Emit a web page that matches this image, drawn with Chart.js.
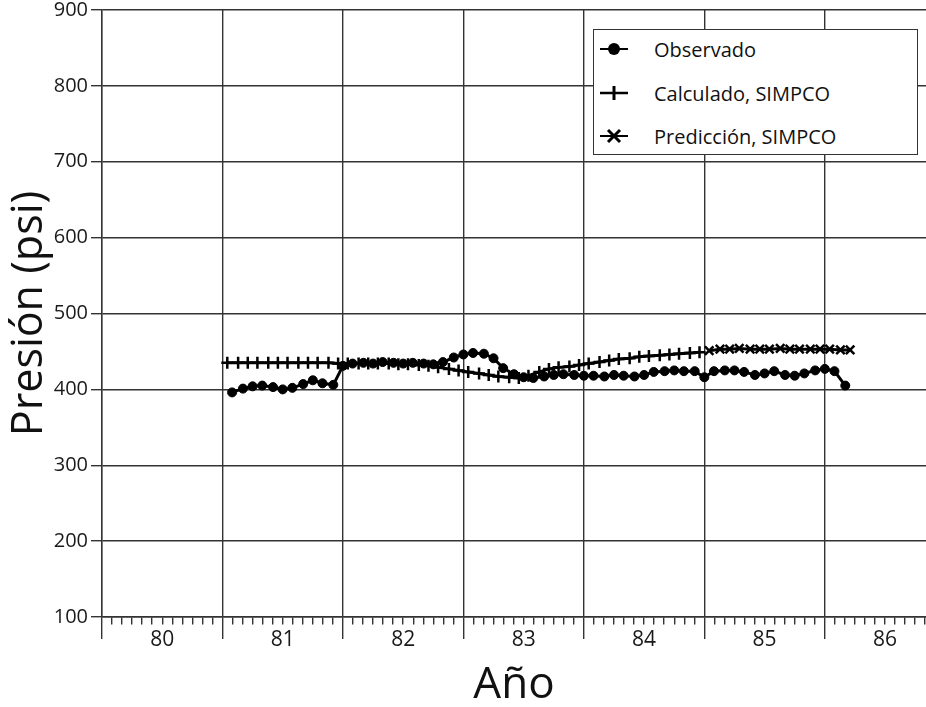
<!DOCTYPE html>
<html lang="es">
<head>
<meta charset="utf-8">
<title>Presión vs Año</title>
<script src="https://cdn.jsdelivr.net/npm/chart.js@4.4.0/dist/chart.umd.min.js"></script>
<style>
  html, body { margin: 0; padding: 0; background: #fff; }
  #wrap { position: relative; width: 926px; height: 707px; }
  #leyenda {
    position: absolute; left: 593px; top: 29px; width: 323px; height: 124px;
    border: 1.5px solid #333; background: #fff;
    font-family: 'Open Sans', sans-serif; font-size: 20px; color: #111;
  }
  .item { position: absolute; left: 0; height: 26px; display: flex; align-items: center; white-space: nowrap; }
  .item svg { margin-left: 5px; margin-right: 25px; }
</style>
</head>
<body>
<div id="wrap">
  <canvas id="grafico" width="926" height="707"></canvas>
  <div id="leyenda"></div>
</div>
<script>
// Datos (año decimal, presión en psi)
const obsAnio = [
  81.08, 81.17, 81.25, 81.33, 81.42, 81.50, 81.58, 81.67, 81.75, 81.83, 81.92, 82.00,
  82.08, 82.17, 82.25, 82.33, 82.42, 82.50, 82.58, 82.67, 82.75, 82.83, 82.92, 83.00,
  83.08, 83.17, 83.25, 83.33, 83.42, 83.50, 83.58, 83.67, 83.75, 83.83, 83.92, 84.00,
  84.08, 84.17, 84.25, 84.33, 84.42, 84.50, 84.58, 84.67, 84.75, 84.83, 84.92, 85.00,
  85.08, 85.17, 85.25, 85.33, 85.42, 85.50, 85.58, 85.67, 85.75, 85.83, 85.92, 86.00,
  86.08, 86.17
];
const obsPresion = [
  396, 401, 404, 405, 403, 400, 402, 407, 412, 408, 406, 431,
  434, 435, 434, 436, 435, 434, 435, 434, 433, 436, 442, 446,
  448, 447, 441, 428, 420, 416, 415, 417, 419, 420, 419, 418,
  418, 417, 419, 418, 417, 419, 423, 424, 425, 424, 424, 416,
  424, 425, 425, 423, 419, 421, 424, 419, 418, 421, 425, 427,
  424, 405
];

const calcAnio = [
  81.04, 81.13, 81.21, 81.29, 81.38, 81.46, 81.54, 81.63, 81.71, 81.79, 81.88, 81.96,
  82.04, 82.13, 82.21, 82.29, 82.38, 82.46, 82.54, 82.63, 82.71, 82.79, 82.88, 82.96,
  83.04, 83.13, 83.21, 83.29, 83.38, 83.46, 83.54, 83.63, 83.71, 83.79, 83.88, 83.96,
  84.04, 84.13, 84.21, 84.29, 84.38, 84.46, 84.54, 84.63, 84.71, 84.79, 84.88, 84.96
];
const calcPresion = [
  435, 435, 435, 435, 435, 435, 435, 435, 435, 435, 435, 434,
  434, 434, 434, 434, 434, 433, 433, 432, 431, 429, 427, 425,
  423, 421, 419, 417, 416, 415, 418, 423, 427, 429, 430, 432,
  434, 436, 438, 440, 441, 443, 444, 445, 446, 447, 448, 449
];

const predAnio = [
  85.04, 85.13, 85.21, 85.29, 85.38, 85.46, 85.54, 85.63, 85.71, 85.79, 85.88, 85.96,
  86.04, 86.13, 86.21
];
const predPresion = [
  451, 453, 453, 454, 453, 453, 453, 454, 453, 453, 453, 453,
  453, 452, 452
];

const presionTicks = [100, 200, 300, 400, 500, 600, 700, 800, 900];
const anioEtiquetas = ['80', '81', '82', '83', '84', '85', '86'];
const anioMin = 80;
const anioMax = 86.84;

const toPoints = (xs, ys) => xs.map((x, i) => ({ x: x, y: ys[i] }));

// marcas mensuales del eje x
function mesDe(v) { return Math.round(v * 12); }
const esAnio = v => mesDe(v) % 12 === 0;

const colorRejilla = '#333';

const grafico = new Chart(document.getElementById('grafico'), {
  type: 'line',
  data: {
    datasets: [
      {
        label: 'Observado',
        data: toPoints(obsAnio, obsPresion),
        borderColor: '#000',
        borderWidth: 3,
        pointStyle: 'circle',
        pointRadius: 4.5,
        pointBackgroundColor: '#000',
        pointBorderColor: '#000',
        pointBorderWidth: 1
      },
      {
        label: 'Calculado, SIMPCO',
        data: toPoints(calcAnio, calcPresion),
        borderColor: '#000',
        borderWidth: 3,
        pointStyle: 'cross',
        pointRadius: 6,
        pointBorderColor: '#000',
        pointBorderWidth: 2.5
      },
      {
        label: 'Predicción, SIMPCO',
        data: toPoints(predAnio, predPresion),
        borderColor: '#000',
        borderWidth: 3,
        pointStyle: 'crossRot',
        pointRadius: 6,
        pointBorderColor: '#000',
        pointBorderWidth: 2.5
      }
    ]
  },
  options: {
    responsive: false,
    devicePixelRatio: 1,
    animation: false,
    layout: {
      autoPadding: false,
      padding: { top: 10, right: 0, bottom: 0, left: 0 }
    },
    scales: {
      x: {
        type: 'linear',
        min: anioMin,
        max: anioMax,
        afterBuildTicks: scale => {
          const ticks = [];
          for (let m = Math.ceil(anioMin * 12); m <= Math.floor(anioMax * 12); m++) {
            ticks.push({ value: m / 12 });
          }
          scale.ticks = ticks;
        },
        afterFit: scale => {
          scale.height = 90;
          scale.paddingLeft = 0;
          scale.paddingRight = 0;
        },
        grid: {
          color: ctx => (ctx.tick && esAnio(ctx.tick.value)) ? colorRejilla : 'rgba(0,0,0,0)',
          tickColor: colorRejilla,
          tickLength: 22,
          tickBorderDash: ctx => (ctx.tick && esAnio(ctx.tick.value)) ? [] : [7, 60],
          lineWidth: 1.4
        },
        border: { color: colorRejilla, width: 1.4 },
        ticks: {
          autoSkip: false,
          maxRotation: 0,
          padding: -12,
          color: '#1a1a1a',
          font: { family: "'Open Sans', sans-serif", size: 21 },
          callback: value => {
            const m = mesDe(value);
            return m % 12 === 6 ? anioEtiquetas[Math.floor(m / 12) - 80] : '';
          }
        },
        title: {
          display: true,
          text: 'Año',
          color: '#111',
          font: { family: "'Open Sans', sans-serif", size: 44, lineHeight: 1 },
          padding: { top: 0, bottom: 0 }
        }
      },
      y: {
        min: 100,
        max: 900,
        afterBuildTicks: scale => {
          scale.ticks = presionTicks.map(v => ({ value: v }));
        },
        afterFit: scale => {
          scale.width = 102;
          scale.paddingTop = 0;
          scale.paddingBottom = 0;
        },
        grid: {
          color: colorRejilla,
          tickColor: colorRejilla,
          tickLength: 11,
          lineWidth: 1.4
        },
        border: { color: colorRejilla, width: 1.4 },
        ticks: {
          padding: 3,
          color: '#1a1a1a',
          font: { family: "'Open Sans', sans-serif", size: 20 }
        },
        title: {
          display: true,
          text: 'Presión (psi)',
          color: '#111',
          font: { family: "'Open Sans', sans-serif", size: 43, lineHeight: 1 },
          padding: { top: 8, bottom: 0 }
        }
      }
    },
    plugins: {
      legend: { display: false },
      tooltip: { enabled: false }
    }
  }
});

// leyenda en recuadro, arriba a la derecha
const marcas = [
  '<line x1="1" y1="8" x2="29" y2="8" stroke="#000" stroke-width="2"/><circle cx="15" cy="8" r="6" fill="#000"/>',
  '<line x1="1" y1="8" x2="29" y2="8" stroke="#000" stroke-width="2.5"/><line x1="15" y1="1" x2="15" y2="15" stroke="#000" stroke-width="3"/>',
  '<line x1="1" y1="8" x2="29" y2="8" stroke="#000" stroke-width="2"/><line x1="9" y1="2" x2="21" y2="14" stroke="#000" stroke-width="3"/><line x1="9" y1="14" x2="21" y2="2" stroke="#000" stroke-width="3"/>'
];
const filasTop = [6, 50, 93];
const leyenda = document.getElementById('leyenda');
grafico.data.datasets.forEach((ds, i) => {
  const fila = document.createElement('div');
  fila.className = 'item';
  fila.style.top = filasTop[i] + 'px';
  fila.innerHTML = `<svg width="30" height="16">${marcas[i]}</svg><span>${ds.label}</span>`;
  leyenda.appendChild(fila);
});
</script>
</body>
</html>
